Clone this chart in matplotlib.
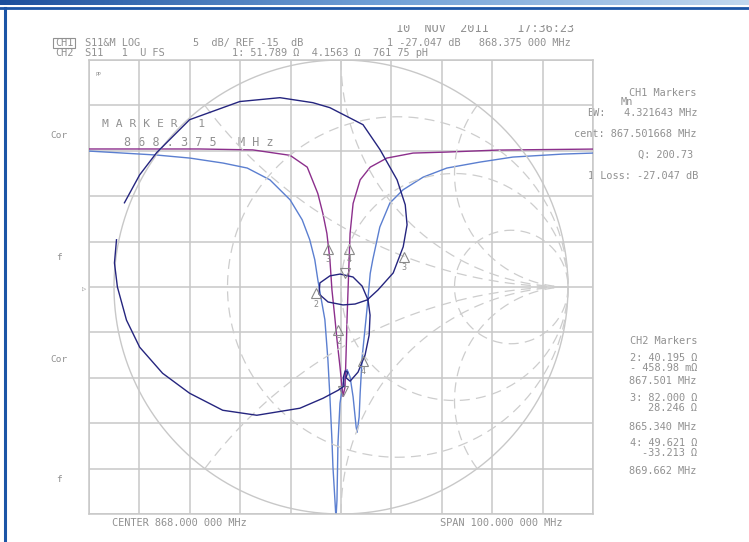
import numpy as np
import matplotlib.pyplot as plt
import matplotlib.transforms as mtransforms
from matplotlib.colors import LinearSegmentedColormap

# CH1 S11 log mag, 5 dB/div, ref -15 dB (centre 868 MHz, span 100 MHz)
purple_f = [818.0, 830.1, 840.0, 850.5, 857.9, 861.3, 863.4, 864.4, 865.2, 865.8,
            866.2, 866.8, 867.2, 867.8, 868.2, 868.4, 868.8, 869.0, 869.2, 869.4,
            869.8, 870.4, 871.8, 873.8, 877.1, 882.3, 889.0, 899.0, 918.0]
purple_db = [0.2, 0.2, 0.2, 0.1, -0.5, -1.8, -4.7, -6.9, -9.1, -12.0,
             -15.3, -18.5, -20.8, -23.8, -26.0, -27.05, -26.0, -22.5, -18.5, -15.3,
             -9.1, -5.8, -3.2, -1.8, -0.8, -0.25, -0.14, 0.08, 0.19]

blue_f = [818.0, 831.5, 838.0, 844.6, 849.4, 853.9, 857.9, 860.3, 861.8, 862.8,
          863.4, 864.8, 865.4, 865.8, 866.2, 866.4, 866.8, 867.0, 867.2, 867.4,
          867.8, 868.4, 869.2, 869.8, 870.4, 871.0, 871.2, 871.6, 871.8, 872.2,
          873.2, 873.8, 874.3, 875.7, 877.7, 880.3, 884.3, 889.0, 895.6, 902.1,
          912.0, 918.0]
blue_db = [-0.03, -0.47, -0.8, -1.35, -1.9, -3.2, -5.4, -7.6, -9.8, -12.0,
           -14.2, -18.6, -23.0, -27.1, -31.8, -34.8, -38.5, -40.5, -38.5, -32.2,
           -27.8, -25.6, -24.1, -24.9, -27.1, -30.4, -31.0, -29.3, -26.7, -22.7,
           -17.2, -13.5, -12.0, -8.4, -5.75, -4.3, -2.9, -1.9, -1.24, -0.69,
           -0.36, -0.25]

# CH2 S11 Smith chart trace (reflection coefficient)
smith_re = [-0.954, -0.887, -0.812, -0.667, -0.446, -0.269, -0.124, -0.049, 0.097, 0.172,
            0.247, 0.283, 0.291, 0.274, 0.230, 0.163, 0.115, 0.062, 0.009, -0.057,
            -0.097, -0.093, -0.049, -0.004, 0.053, 0.093, 0.119, 0.128, 0.124, 0.106,
            0.075, 0.040, 0.022, 0.030, 0.018, 0.010, 0.013, -0.013, -0.079, -0.181,
            -0.371, -0.521, -0.667, -0.786, -0.887, -0.945, -0.985, -0.998, -0.989]
smith_im = [0.371, 0.494, 0.592, 0.737, 0.817, 0.834, 0.812, 0.790, 0.715, 0.605,
            0.472, 0.362, 0.274, 0.177, 0.062, -0.013, -0.057, -0.075, -0.079, -0.066,
            -0.031, 0.018, 0.049, 0.057, 0.044, 0.004, -0.057, -0.124, -0.212, -0.300,
            -0.375, -0.415, -0.400, -0.375, -0.370, -0.400, -0.437, -0.455, -0.490, -0.534,
            -0.565, -0.543, -0.468, -0.380, -0.265, -0.146, 0.0, 0.106, 0.208]

# markers
ch1_mk_f = [868.375, 867.501, 865.340, 869.662]
ch1_mk_db = [-27.047, -19.2, -10.2, -10.2]
ch2_mk_z = [51.789 + 4.1563j, 40.195 - 0.45898j, 82.000 + 28.246j, 49.621 - 33.213j]
mk_names = ['1', '2', '3', '4']
z0 = 50.0

r_circles = [1 / 3, 1.0, 3.0]
x_arcs = [0.5, 1.0, 2.0]

grid_c = '#c8c8c8'
dash_c = '#cdcdcd'
txt_c = '#919191'
purple = '#8c2f8c'
lblue = '#5b7fd0'
navy = '#25257f'
mono = 'DejaVu Sans Mono'

W, H = 749, 542
fig = plt.figure(figsize=(W / 100, H / 100), dpi=100)

# background axes in pixel units for the annotation text
bg = fig.add_axes([0, 0, 1, 1])
bg.set_xlim(0, W)
bg.set_ylim(H, 0)
bg.axis('off')
grad = np.linspace(0, 1, 256).reshape(1, -1)
cm = LinearSegmentedColormap.from_list('bar', ['#1c4f9c', '#6f9fd6', '#c2d8ef'])
bg.imshow(grad, extent=[0, W, 5, 0], aspect='auto', cmap=cm)
bg.axhline(8, color='#1c55a6', lw=2)
bg.axvline(5, ymin=0, ymax=1 - 8 / H, color='#1c55a6', lw=2.2)

gl, gr_, gt, gb = 89, 593, 60, 514
rect = [gl / W, 1 - gb / H, (gr_ - gl) / W, (gb - gt) / H]

# log mag graticule
lm = fig.add_axes(rect)
lm.set_xlim(818, 918)
lm.set_ylim(-40, 10)
lm.set_xticks(np.arange(818, 919, 10))
lm.set_yticks(np.arange(-40, 11, 5))
lm.grid(True, color=grid_c, lw=1.1)
lm.tick_params(length=0, labelbottom=False, labelleft=False)
for s in lm.spines.values():
    s.set_color(grid_c)
    s.set_linewidth(1.1)
lm.patch.set_alpha(0)

# smith chart axes (unit circle fills grid height)
rad = (gb - gt) / 2
sm = fig.add_axes(rect)
sm.set_xlim(-(gr_ - gl) / 2 / rad, (gr_ - gl) / 2 / rad)
sm.set_ylim(-1, 1)
sm.axis('off')
sm.patch.set_alpha(0)

t = np.linspace(0, 2 * np.pi, 400)
sm.plot(np.cos(t), np.sin(t), color=grid_c, lw=1.0)
tt = np.linspace(-np.pi / 2 + 1e-3, np.pi / 2 - 1e-3, 600)
for r in r_circles:
    z = r + 1j * np.tan(tt)
    g = (z - 1) / (z + 1)
    sm.plot(g.real, g.imag, color=dash_c, lw=0.9, dashes=(8, 5))
rr = np.tan(np.linspace(0, np.pi / 2 - 1e-3, 600))
for xv in x_arcs:
    for sgn in (1, -1):
        z = rr + 1j * sgn * xv
        g = (z - 1) / (z + 1)
        sm.plot(g.real, g.imag, color=dash_c, lw=0.9, dashes=(8, 5))

# traces
lm.plot(blue_f, blue_db, color=lblue, lw=1.0, zorder=3)
lm.plot(purple_f, purple_db, color=purple, lw=1.0, zorder=4)
sm.plot(smith_re, smith_im, color=navy, lw=1.0, zorder=5)

ms = 7.5


def marker(ax, x, y, name, active):
    if active:
        tr = mtransforms.offset_copy(ax.transData, fig, y=ms / 2, units='points')
        ax.plot([x], [y], marker='v', ms=ms, mfc='none', mec='#8a8a8a', mew=0.8,
                transform=tr, zorder=6)
    else:
        tr = mtransforms.offset_copy(ax.transData, fig, y=-ms / 2, units='points')
        ax.plot([x], [y], marker='^', ms=ms, mfc='none', mec='#8a8a8a', mew=0.8,
                transform=tr, zorder=6)
        tl = mtransforms.offset_copy(ax.transData, fig, y=-ms - 4, units='points')
        ax.text(x, y, name, transform=tl, ha='center', va='center', fontsize=6,
                color='#8a8a8a', family=mono, zorder=6)


for i in range(4):
    marker(lm, ch1_mk_f[i], ch1_mk_db[i], mk_names[i], i == 0)
    g = (ch2_mk_z[i] - z0) / (ch2_mk_z[i] + z0)
    marker(sm, g.real, g.imag, mk_names[i], i == 0)

fs = 7.4
def tx(x, y, s, size=fs, ha='left'):
    return bg.text(x, y, s, fontsize=size, color=txt_c, ha=ha, va='center', family=mono)

# date line is cut off at the top of the screen capture
date = tx(396, 28, '10  NOV  2011    17:36:23', 8.6)
clip = plt.Rectangle((0, 25), W, 20, transform=bg.transData, visible=False)
bg.add_patch(clip)
date.set_clip_path(clip)
date.set_clip_on(True)

tx(387, 43, '1 -27.047 dB   868.375 000 MHz')
tx(55, 43, 'CH1')
bg.add_patch(plt.Rectangle((53, 37.5), 22, 10, fill=False, ec=txt_c, lw=0.8))
tx(85, 43, 'S11&M LOG')
tx(193, 43, '5  dB/ REF -15  dB')
tx(55, 53, 'CH2')
tx(85, 53, 'S11   1  U FS')
tx(232, 53, '1: 51.789 Ω  4.1563 Ω  761 75 pH')

tx(696, 93, 'CH1 Markers', ha='right')
tx(621, 102, 'Mn')
tx(587, 113, 'BW:')
tx(697, 113, '4.321643 MHz', ha='right')
tx(697, 134, 'cent: 867.501668 MHz', ha='right')
tx(693, 155, 'Q: 200.73', ha='right')
tx(698, 176, '1 Loss: -27.047 dB', ha='right')

tx(697, 341, 'CH2 Markers', ha='right')
tx(697, 358, '2: 40.195 Ω', ha='right')
tx(697, 368, '- 458.98 mΩ', ha='right')
tx(696, 381, '867.501 MHz', ha='right')
tx(697, 398, '3: 82.000 Ω', ha='right')
tx(697, 408, '28.246 Ω', ha='right')
tx(696, 427, '865.340 MHz', ha='right')
tx(697, 443, '4: 49.621 Ω', ha='right')
tx(697, 453, '-33.213 Ω', ha='right')
tx(696, 471, '869.662 MHz', ha='right')

for yy, s in [(136, 'Cor'), (257, 'f'), (359, 'Cor'), (480, 'f')]:
    tx(59, yy, s, 6.8, ha='center')
tx(84, 290, '▷', 5, ha='center')
tx(95, 75, 'PP', 3.5)

tx(102, 124, 'M A R K E R   1', 8.2)
tx(124, 143, '8 6 8 . 3 7 5   M H z', 8.5)
tx(112, 523, 'CENTER 868.000 000 MHz')
tx(440, 523, 'SPAN 100.000 000 MHz')

fig.savefig('out.png', dpi=100)
